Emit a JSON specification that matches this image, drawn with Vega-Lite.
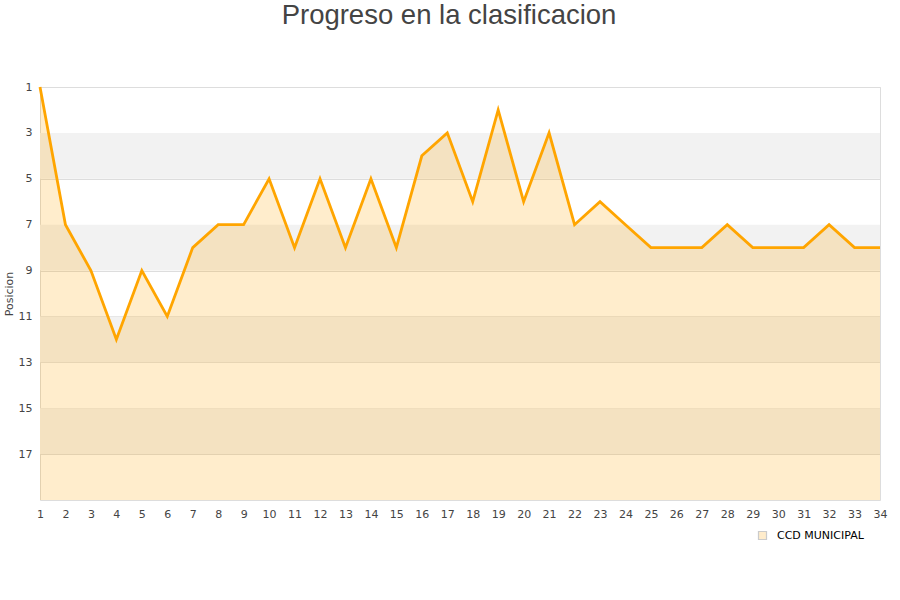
{
  "$schema": "https://vega.github.io/schema/vega-lite/v6.json",
  "autosize": "none",
  "width": 840,
  "height": 413,
  "padding": {"left": 40, "top": 87, "right": 20, "bottom": 100},
  "background": "white",
  "config": {
    "view": {"stroke": "#dddddd"},
    "font": "Liberation Sans",
    "axis": {"labelFont": "DejaVu Sans", "labelFontSize": 11, "labelColor": "#444444", "ticks": false, "domain": false, "gridColor": "#dddddd"},
    "axisX": {"labelOverlap": false, "labelFlush": false, "labelPadding": 8, "grid": false}
  },
  "title": {
    "text": "Progreso en la clasificacion",
    "fontSize": 27.5,
    "fontWeight": "normal",
    "color": "#444444",
    "font": "Liberation Sans",
    "anchor": "middle",
    "dx": -11,
    "baseline": "alphabetic",
    "offset": 30
  },
  "datasets": {
    "bands": [
      {"y": 3, "y2": 5},
      {"y": 7, "y2": 9},
      {"y": 11, "y2": 13},
      {"y": 15, "y2": 17}
    ],
    "pos": [
      {"jornada": 1, "posicion": 1, "equipo": "CCD MUNICIPAL"},
      {"jornada": 2, "posicion": 7, "equipo": "CCD MUNICIPAL"},
      {"jornada": 3, "posicion": 9, "equipo": "CCD MUNICIPAL"},
      {"jornada": 4, "posicion": 12, "equipo": "CCD MUNICIPAL"},
      {"jornada": 5, "posicion": 9, "equipo": "CCD MUNICIPAL"},
      {"jornada": 6, "posicion": 11, "equipo": "CCD MUNICIPAL"},
      {"jornada": 7, "posicion": 8, "equipo": "CCD MUNICIPAL"},
      {"jornada": 8, "posicion": 7, "equipo": "CCD MUNICIPAL"},
      {"jornada": 9, "posicion": 7, "equipo": "CCD MUNICIPAL"},
      {"jornada": 10, "posicion": 5, "equipo": "CCD MUNICIPAL"},
      {"jornada": 11, "posicion": 8, "equipo": "CCD MUNICIPAL"},
      {"jornada": 12, "posicion": 5, "equipo": "CCD MUNICIPAL"},
      {"jornada": 13, "posicion": 8, "equipo": "CCD MUNICIPAL"},
      {"jornada": 14, "posicion": 5, "equipo": "CCD MUNICIPAL"},
      {"jornada": 15, "posicion": 8, "equipo": "CCD MUNICIPAL"},
      {"jornada": 16, "posicion": 4, "equipo": "CCD MUNICIPAL"},
      {"jornada": 17, "posicion": 3, "equipo": "CCD MUNICIPAL"},
      {"jornada": 18, "posicion": 6, "equipo": "CCD MUNICIPAL"},
      {"jornada": 19, "posicion": 2, "equipo": "CCD MUNICIPAL"},
      {"jornada": 20, "posicion": 6, "equipo": "CCD MUNICIPAL"},
      {"jornada": 21, "posicion": 3, "equipo": "CCD MUNICIPAL"},
      {"jornada": 22, "posicion": 7, "equipo": "CCD MUNICIPAL"},
      {"jornada": 23, "posicion": 6, "equipo": "CCD MUNICIPAL"},
      {"jornada": 24, "posicion": 7, "equipo": "CCD MUNICIPAL"},
      {"jornada": 25, "posicion": 8, "equipo": "CCD MUNICIPAL"},
      {"jornada": 26, "posicion": 8, "equipo": "CCD MUNICIPAL"},
      {"jornada": 27, "posicion": 8, "equipo": "CCD MUNICIPAL"},
      {"jornada": 28, "posicion": 7, "equipo": "CCD MUNICIPAL"},
      {"jornada": 29, "posicion": 8, "equipo": "CCD MUNICIPAL"},
      {"jornada": 30, "posicion": 8, "equipo": "CCD MUNICIPAL"},
      {"jornada": 31, "posicion": 8, "equipo": "CCD MUNICIPAL"},
      {"jornada": 32, "posicion": 7, "equipo": "CCD MUNICIPAL"},
      {"jornada": 33, "posicion": 8, "equipo": "CCD MUNICIPAL"},
      {"jornada": 34, "posicion": 8, "equipo": "CCD MUNICIPAL"}
    ]
  },
  "layer": [
    {
      "data": {"name": "bands"},
      "mark": {"type": "rect", "fill": "#f2f2f2"},
      "encoding": {
        "y": {"field": "y", "type": "quantitative", "scale": {"domain": [1, 19], "reverse": true, "zero": false, "nice": false}, "axis": {"values": [1, 3, 5, 7, 9, 11, 13, 15, 17], "title": "Posicion", "titleFontSize": 11, "titleFontWeight": "normal", "titleColor": "#444444", "titleFont": "DejaVu Sans", "titlePadding": 4, "labelPadding": 8}},
        "y2": {"field": "y2"}
      }
    },
    {
      "data": {"name": "pos"},
      "mark": {"type": "area", "opacity": 0.2},
      "encoding": {
        "x": {"field": "jornada", "type": "quantitative", "scale": {"domain": [1, 34], "nice": false, "zero": false}, "axis": {"values": [1,2,3,4,5,6,7,8,9,10,11,12,13,14,15,16,17,18,19,20,21,22,23,24,25,26,27,28,29,30,31,32,33,34], "title": null}},
        "y": {"field": "posicion", "type": "quantitative"},
        "y2": {"datum": 19},
        "color": {
          "field": "equipo",
          "type": "nominal",
          "scale": {"range": ["#FFA500"]},
          "legend": {
            "title": null,
            "orient": "none",
            "legendX": 717,
            "legendY": 443,
            "symbolType": "square",
            "symbolSize": 64,
            "symbolStrokeColor": "#000000",
            "symbolStrokeWidth": 1.2,
            "labelFont": "DejaVu Sans",
            "labelFontSize": 11,
            "labelColor": "#000000",
            "labelOffset": 9,
            "padding": 0
          }
        }
      }
    },
    {
      "data": {"name": "pos"},
      "mark": {"type": "line", "stroke": "#FFA500", "strokeWidth": 2.8},
      "encoding": {
        "x": {"field": "jornada", "type": "quantitative", "axis": {"values": [1,2,3,4,5,6,7,8,9,10,11,12,13,14,15,16,17,18,19,20,21,22,23,24,25,26,27,28,29,30,31,32,33,34], "title": null}},
        "y": {"field": "posicion", "type": "quantitative"}
      }
    }
  ]
}
